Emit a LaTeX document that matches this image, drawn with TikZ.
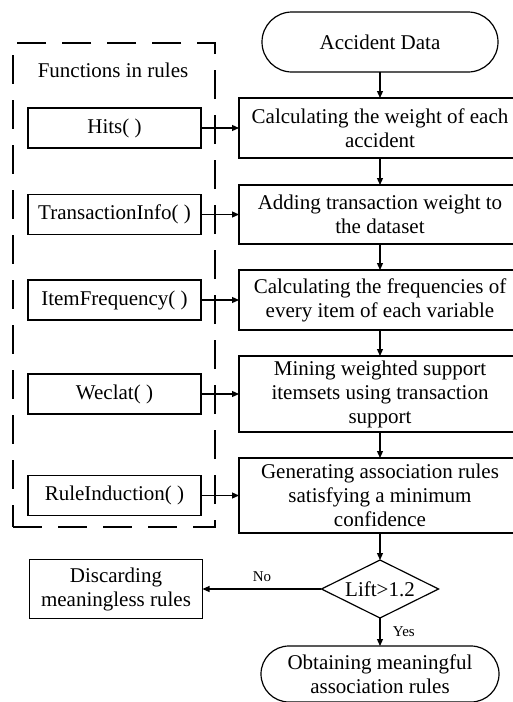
\documentclass[tikz,border=0pt]{standalone}
\usepackage{fontspec}
\setmainfont{Liberation Serif}
\usetikzlibrary{arrows.meta,positioning,shapes.geometric,fit}

\begin{document}
\begin{tikzpicture}[x=1pt, y=-1pt,
  font=\fontsize{21}{24}\selectfont,
  stepbox/.style={draw, line width=1.2pt, outer sep=0pt, minimum width=282pt, align=center, inner sep=2pt},
  func/.style={draw, line width=1.2pt, outer sep=0pt, minimum width=173pt, minimum height=40pt, inner sep=0pt},
  term/.style={draw, line width=1.2pt, outer sep=0pt, align=center, inner sep=0pt},
  decision/.style={draw, diamond, aspect=2, line width=1.2pt, outer sep=0pt, minimum width=117pt, minimum height=58pt, inner sep=0pt},
  frame/.style={draw, line width=1.2pt, dash pattern=on 29pt off 16pt, inner sep=0pt},
  lbl/.style={font=\fontsize{15}{17}\selectfont},
  arr/.style={line width=1.2pt, -{Triangle[length=7pt,width=6pt]}}
]
\useasboundingbox (0,0) rectangle (512,702);

% main flow
\node[term, rounded corners=30pt, minimum width=236pt, minimum height=60pt] (data) at (380,42) {Accident Data};
\node[stepbox, minimum height=60pt, below=26pt of data] (weight) {Calculating the weight of each\\accident};
\node[stepbox, minimum height=59pt, below=27pt of weight] (addw) {Adding transaction weight to\\the dataset};
\node[stepbox, minimum height=60pt, below=26pt of addw] (freq) {Calculating the frequencies of\\every item of each variable};
\node[stepbox, minimum height=76pt, below=26pt of freq] (mine) {Mining weighted support\\itemsets using transaction\\support};
\node[stepbox, minimum height=75pt, below=26pt of mine] (gen) {Generating association rules\\satisfying a minimum\\confidence};
\node[decision, below=27pt of gen] (lift) {Lift>1.2};
\node[term, rounded corners=28pt, minimum width=238pt, minimum height=56pt, below=28pt of lift] (obtain) {Obtaining meaningful\\association rules};
\node[func, minimum height=59pt, align=center, left=119pt of lift] (discard) {Discarding\\meaningless rules};

% functions in rules
\coordinate (ftl) at (13,43);
\coordinate (fbr) at (215,527);
\node[frame, fit=(ftl)(fbr)] (funcs) {};
\node (title) at (113,70) {Functions in rules};
\node[func, left=38pt of weight] (hits) {Hits( )};
\node[func, left=38pt of addw] (tinfo) {TransactionInfo( )};
\node[func, left=38pt of freq] (ifreq) {ItemFrequency( )};
\node[func, left=38pt of mine] (weclat) {Weclat( )};
\node[func, left=38pt of gen] (rind) {RuleInduction( )};

\draw[arr] (data) -- (weight);
\draw[arr] (weight) -- (addw);
\draw[arr] (addw) -- (freq);
\draw[arr] (freq) -- (mine);
\draw[arr] (mine) -- (gen);
\draw[arr] (gen) -- (lift);
\draw[arr] (lift) -- node[lbl, above=3pt] {No} (discard);
\draw[arr] (lift) -- node[lbl, right=9pt] {Yes} (obtain);

\draw[arr] (hits) -- (weight);
\draw[arr] (tinfo) -- (addw);
\draw[arr] (ifreq) -- (freq);
\draw[arr] (weclat) -- (mine);
\draw[arr] (rind) -- (gen);
\end{tikzpicture}
\end{document}
